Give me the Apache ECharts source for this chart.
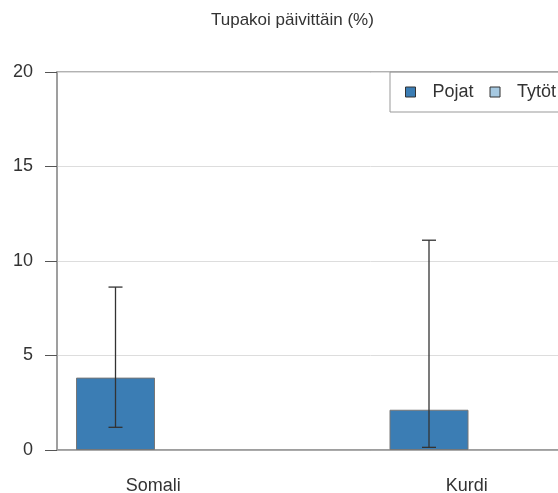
<!DOCTYPE html>
<html><head><meta charset="utf-8">
<script src="https://cdn.jsdelivr.net/npm/echarts@6/dist/echarts.min.js"></script>
<style>html,body{margin:0;padding:0;background:#fff;overflow:hidden;width:558px;height:493px}#c{width:720px;height:493px}</style>
</head><body><div id="c"></div>
<script>
const categories = ['Somali', 'Kurdi'];
const pojat = [3.83, 2.13];
const tytot = [null, null];
const pojatLow = [1.2, 0.14];
const pojatHigh = [8.62, 11.1];
const yTicks = [0, 5, 10, 15, 20];

const BAR_W = 79, GAP_PX = 117.5;
const chart = echarts.init(document.getElementById('c'), null, {renderer: 'canvas'});
const font = 'Liberation Sans, Arial, sans-serif';
chart.setOption({
  animation: false,
  title: {text: 'Tupakoi päivittäin (%)', left: 206, top: 7,
    textStyle: {fontFamily: font, fontSize: 17, fontWeight: 'normal', color: '#333'}},
  legend: {
    data: ['Pojat', 'Tytöt'], left: 390, top: 72, orient: 'horizontal',
    padding: [11, 25, 11, 15], borderColor: '#999', borderWidth: 1,
    itemWidth: 10, itemHeight: 10, itemGap: 16, icon: 'rect',
    itemStyle: {borderColor: '#333', borderWidth: 1},
    textStyle: {fontFamily: font, fontSize: 18, color: '#333', padding: [0, 0, 0, 12]}
  },
  grid: {left: 57, top: 72, width: 627, height: 378, show: true, borderColor: '#999', borderWidth: 1.5, outerBoundsMode: 'none'},
  xAxis: {
    type: 'category', data: categories,
    axisLine: {lineStyle: {color: '#999', width: 1.5}},
    axisTick: {show: false},
    axisLabel: {fontFamily: font, fontSize: 18, color: '#333', margin: 27, padding: [0, 121, 0, 0]}
  },
  yAxis: {
    type: 'value', min: yTicks[0], max: yTicks[yTicks.length - 1], interval: 5,
    axisLine: {show: true, lineStyle: {color: '#999', width: 1.5}},
    axisTick: {show: true, length: 12, lineStyle: {color: '#555'}},
    axisLabel: {fontFamily: font, fontSize: 18, color: '#333', margin: 24},
    splitLine: {lineStyle: {color: '#ddd'}}
  },
  series: [
    {name: 'Pojat', type: 'bar', data: pojat, barWidth: BAR_W, barGap: (GAP_PX / BAR_W * 100) + '%',
     itemStyle: {color: '#3b7db4', borderColor: '#777', borderWidth: 1}},
    {name: 'Tytöt', type: 'bar', data: tytot, barWidth: BAR_W,
     itemStyle: {color: '#a6c9e1', borderColor: '#333', borderWidth: 1}},
    {name: 'err', type: 'custom', z: 10,
     data: categories.map((c, i) => [i, pojatLow[i], pojatHigh[i]]),
     renderItem: function (params, api) {
       const off = -(BAR_W + GAP_PX) / 2;
       const lo = api.coord([api.value(0), api.value(1)]);
       const hi = api.coord([api.value(0), api.value(2)]);
       const x = lo[0] + off, hw = 7;
       const st = {stroke: '#333', lineWidth: 1.3};
       return {type: 'group', children: [
         {type: 'line', shape: {x1: x, y1: lo[1], x2: x, y2: hi[1]}, style: st},
         {type: 'line', shape: {x1: x - hw, y1: lo[1], x2: x + hw, y2: lo[1]}, style: st},
         {type: 'line', shape: {x1: x - hw, y1: hi[1], x2: x + hw, y2: hi[1]}, style: st}
       ]};
     }}
  ]
});
</script></body></html>
